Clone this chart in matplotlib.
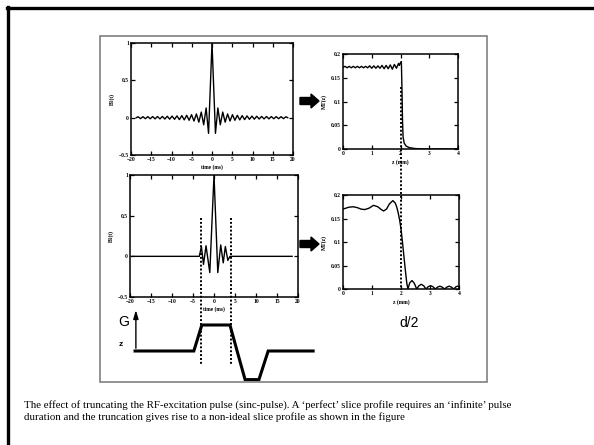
import numpy as np
import matplotlib
matplotlib.use("Agg")
import matplotlib.pyplot as plt
from matplotlib.lines import Line2D
from matplotlib.patches import Polygon, Rectangle
from matplotlib.transforms import blended_transform_factory

# ---- data ----
# full sinc pulse: extrema on the positive side (ms, B1), mirrored for t < 0
sinc_t = [0.85, 1.45, 2.05, 2.65, 3.25, 3.85, 4.45, 5.05, 5.65, 6.25, 6.85,
          7.45, 8.05, 8.65, 9.25, 9.85, 10.45, 11.05, 11.65, 12.25, 12.85,
          13.45, 14.05, 14.65, 15.25, 15.85, 16.45, 17.05, 17.65, 18.25, 18.7]
sinc_b1 = [-0.21, 0.13, -0.095, 0.075, -0.06, 0.05, -0.045, 0.04, -0.035,
           0.032, -0.03, 0.028, -0.026, 0.024, -0.022, 0.021, -0.02, 0.019,
           -0.018, 0.017, -0.017, 0.016, -0.016, 0.015, -0.015, 0.014,
           -0.014, 0.013, -0.013, 0.012, 0.0]

# truncated pulse (ms, B1)
trunc_t = [-19.5, -3.5, -3.0, -2.5, -1.9, -1.0, 0.0, 0.9, 1.6, 2.2, 2.7,
           3.3, 3.8, 18.6]
trunc_b1 = [0.0, 0.0, 0.12, -0.1, 0.13, -0.2, 1.0, -0.2, 0.14, -0.08, 0.12,
            -0.05, 0.0, 0.0]

# slice profile of the full pulse: small ripple on the plateau, then the edge
ripple_mt = [0.172, 0.174, 0.171, 0.174, 0.171, 0.174, 0.171, 0.174, 0.171,
             0.174, 0.171, 0.174, 0.171, 0.175, 0.170, 0.175, 0.170, 0.175,
             0.170, 0.176, 0.169, 0.176, 0.169, 0.177, 0.168, 0.178, 0.170,
             0.180]
edge_z = [1.96, 2.0, 2.03, 2.05, 2.07, 2.09, 2.13, 2.2, 2.3, 2.5, 2.8, 4.0]
edge_mt = [0.176, 0.182, 0.184, 0.13, 0.06, 0.025, 0.012, 0.006, 0.003,
           0.001, 0.0, 0.0]

# slice profile of the truncated pulse
prof_z = [0.0, 0.1, 0.2, 0.35, 0.5, 0.62, 0.75, 0.9, 1.05, 1.2, 1.32, 1.4,
          1.5, 1.6, 1.72, 1.8, 1.85, 1.9, 1.95, 2.0, 2.05, 2.1, 2.15, 2.2,
          2.24, 2.3, 2.38, 2.46, 2.54, 2.62, 2.7, 2.78, 2.86, 2.94, 3.02,
          3.1, 3.18, 3.26, 3.34, 3.42, 3.5, 3.58, 3.66, 3.74, 3.82, 3.9,
          3.96, 4.0]
prof_mt = [0.170, 0.172, 0.174, 0.175, 0.173, 0.170, 0.169, 0.172, 0.178,
           0.175, 0.169, 0.166, 0.170, 0.181, 0.188, 0.183, 0.175, 0.163,
           0.148, 0.128, 0.100, 0.070, 0.040, 0.012, 0.0, 0.013, 0.018,
           0.012, 0.0, 0.007, 0.010, 0.007, 0.0, 0.005, 0.007, 0.005, 0.0,
           0.004, 0.006, 0.004, 0.0, 0.004, 0.006, 0.004, 0.0, 0.005, 0.006,
           0.005]

# slice gradient waveform (ms, relative amplitude)
grad_t = [-18.8, -4.8, -2.9, 3.8, 5.5, 7.4, 10.7, 12.9, 23.6]
grad_g = [0.0, 0.0, 1.0, 1.0, 0.0, -1.1, -1.1, 0.0, 0.0]
trunc_edges = [-3.1, 4.0]
half_slice = 2.0

caption_lines = [
    "The effect of truncating the RF-excitation pulse (sinc-pulse). "
    "A \u2018perfect\u2019 slice profile requires an \u2018infinite\u2019 pulse",
    "duration and the truncation gives rise to a non-ideal slice "
    "profile as shown in the figure",
]

W, H = 594, 445
fig = plt.figure(figsize=(W / 100, H / 100), dpi=100)
fig.patch.set_facecolor("white")


def fx(x):
    return x / W


def fy(y):
    return 1 - y / H


def px_axes(l, t, r, b):
    return fig.add_axes([fx(l), fy(b), (r - l) / W, (b - t) / H])


tick_font = dict(family="Liberation Serif", weight="bold", size=4.0)


def style(ax):
    for s in ax.spines.values():
        s.set_linewidth(1.1)
    ax.tick_params(direction="in", length=3, width=0.9, top=True, right=True,
                   pad=1.5)
    for lab in ax.get_xticklabels() + ax.get_yticklabels():
        lab.set_fontproperties(tick_font)
        lab.set_fontweight("bold")


# slide frame and inner box
fig.add_artist(Line2D([fx(7), fx(594)], [fy(7.5), fy(7.5)], color="black",
                      lw=2.4, transform=fig.transFigure))
fig.add_artist(Line2D([fx(8), fx(8)], [fy(6.5), fy(445)], color="black",
                      lw=2.4, transform=fig.transFigure))
fig.add_artist(Rectangle((fx(100), fy(382)), fx(387), 346 / H, fill=False,
                         edgecolor="#808080", lw=1.2,
                         transform=fig.transFigure))

# ---- top left: full sinc ----
t_full = [-v for v in sinc_t[::-1]] + [0.0] + sinc_t
b_full = sinc_b1[::-1] + [1.0] + sinc_b1
ax1 = px_axes(131, 43, 293, 155)
ax1.plot(t_full, b_full, color="black", lw=1.0)
ax1.set_xlim(-20, 20)
ax1.set_ylim(-0.5, 1)
ax1.set_xticks(range(-20, 21, 5))
ax1.set_xticklabels(["\u221220", "\u221215", "\u221210", "\u22125", "0",
                     "5", "10", "15", "20"])
ax1.set_yticks([-0.5, 0, 0.5, 1])
ax1.set_yticklabels(["\u22120.5", "0", "0.5", "1"])
ax1.set_xlabel("time (ms)", fontdict=tick_font, labelpad=1.5)
ax1.set_ylabel("B1(t)", fontdict=tick_font, labelpad=3)
style(ax1)

# ---- top right: profile of the full sinc ----
ax2 = px_axes(343, 54, 458, 149)
z_top = list(np.linspace(0, 1.93, len(ripple_mt))) + edge_z
mt_top = ripple_mt + edge_mt
ax2.plot(z_top, mt_top, color="black", lw=1.0)
ax2.set_xlim(0, 4)
ax2.set_ylim(0, 0.2)
ax2.set_xticks([0, 1, 2, 3, 4])
ax2.set_yticks([0, 0.05, 0.1, 0.15, 0.2])
ax2.set_yticklabels(["0", "0.05", "0.1", "0.15", "0.2"])
ax2.set_xlabel("z (mm)", fontdict=tick_font, labelpad=2)
ax2.set_ylabel("MT(z)", fontdict=tick_font, labelpad=3)
style(ax2)

# ---- bottom left: truncated sinc ----
ax3 = px_axes(130, 175, 298, 297)
ax3.plot(trunc_t, trunc_b1, color="black", lw=1.0)
ax3.set_xlim(-20, 20)
ax3.set_ylim(-0.5, 1)
ax3.set_xticks(range(-20, 21, 5))
ax3.set_xticklabels(["\u221220", "\u221215", "\u221210", "\u22125", "0",
                     "5", "10", "15", "20"])
ax3.set_yticks([-0.5, 0, 0.5, 1])
ax3.set_yticklabels(["\u22120.5", "0", "0.5", "1"])
ax3.set_xlabel("time (ms)", fontdict=tick_font, labelpad=1.5)
ax3.set_ylabel("B1(t)", fontdict=tick_font, labelpad=3)
style(ax3)

# ---- bottom right: profile of the truncated sinc ----
ax4 = px_axes(343, 195, 459, 289)
ax4.plot(prof_z, prof_mt, color="black", lw=1.0)
ax4.set_xlim(0, 4)
ax4.set_ylim(0, 0.2)
ax4.set_xticks([0, 1, 2, 3, 4])
ax4.set_yticks([0, 0.05, 0.1, 0.15, 0.2])
ax4.set_yticklabels(["0", "0.05", "0.1", "0.15", "0.2"])
ax4.set_xlabel("z (mm)", fontdict=tick_font, labelpad=2)
ax4.set_ylabel("MT(z)", fontdict=tick_font, labelpad=3)
style(ax4)

# ---- gradient waveform under the truncated pulse ----
axg = fig.add_axes([fx(130), fy(385), 168 / W, 80 / H])
axg.set_xlim(-20, 20)
axg.set_ylim(-34 / 26, 46 / 26)
axg.axis("off")
axg.plot(grad_t, grad_g, color="black", lw=2.2, clip_on=False,
         solid_joinstyle="miter")
axg.annotate("", xy=(-18.6, 1.68), xytext=(-18.6, 0.0),
             arrowprops=dict(arrowstyle="-|>,head_length=0.5,head_width=0.15",
                             color="black", lw=1.0))
fig.text(fx(118), fy(322), "G", family="Liberation Sans", fontsize=10,
         va="center", ha="left")
fig.text(fx(119), fy(345), "z", family="Liberation Sans", fontsize=6,
         weight="bold", va="center", ha="left")

# dotted markers: truncation limits and half slice thickness
tr3 = blended_transform_factory(ax3.transData, fig.transFigure)
for t in trunc_edges:
    fig.add_artist(Line2D([t, t], [fy(218), fy(365)], color="black", lw=1.4,
                          linestyle=(0, (1, 1)), transform=tr3))
tr2 = blended_transform_factory(ax2.transData, fig.transFigure)
fig.add_artist(Line2D([half_slice, half_slice], [fy(87), fy(290)],
                      color="black", lw=1.4, linestyle=(0, (1, 1)),
                      transform=tr2))
fig.text(fx(409), fy(323), "d/2", family="Liberation Sans", fontsize=10,
         ha="center", va="center")

# block arrows between the panels
for yc in (101, 244):
    pts = [(300, yc - 3.5), (311, yc - 3.5), (311, yc - 7), (319, yc),
           (311, yc + 7), (311, yc + 3.5), (300, yc + 3.5)]
    fig.add_artist(Polygon([(fx(x), fy(y)) for x, y in pts], closed=True,
                           facecolor="black", edgecolor="black",
                           transform=fig.transFigure))

for i, line in enumerate(caption_lines):
    fig.text(fx(24), fy(405 + 12.5 * i), line, family="Liberation Serif",
             fontsize=7.8, ha="left", va="center")

fig.savefig("out.png", dpi=100)
